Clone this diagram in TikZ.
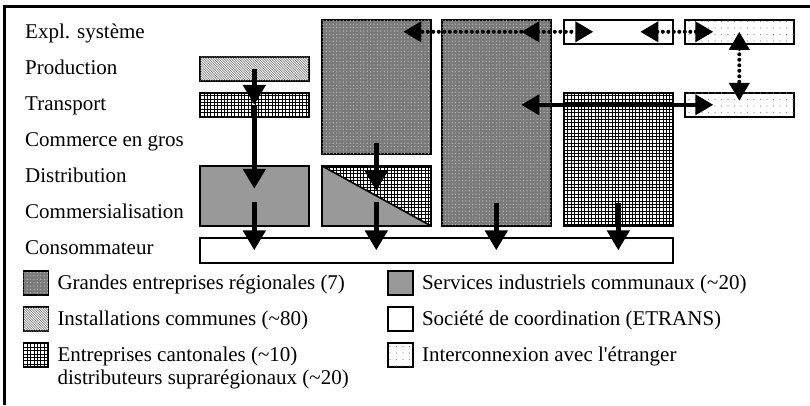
\documentclass[tikz,border=0pt]{standalone}
\usepackage{fontspec}
\setmainfont{Liberation Serif}
\usetikzlibrary{positioning}
\usetikzlibrary{arrows.meta,calc,patterns}

\pgfdeclarepatternformonly{finegrid}{\pgfqpoint{-1pt}{-1pt}}{\pgfqpoint{4.4pt}{4.4pt}}{\pgfqpoint{3.4pt}{3.4pt}}{%
  \pgfsetlinewidth{0.8pt}%
  \pgfpathmoveto{\pgfqpoint{0pt}{0pt}}\pgfpathlineto{\pgfqpoint{3.5pt}{0pt}}%
  \pgfpathmoveto{\pgfqpoint{0pt}{0pt}}\pgfpathlineto{\pgfqpoint{0pt}{3.5pt}}%
  \pgfusepath{stroke}}
\pgfdeclarepatternformonly{finehatch}{\pgfqpoint{-1pt}{-1pt}}{\pgfqpoint{3.5pt}{3.5pt}}{\pgfqpoint{2.5pt}{2.5pt}}{%
  \pgfsetlinewidth{0.6pt}%
  \pgfpathmoveto{\pgfqpoint{0pt}{2.5pt}}\pgfpathlineto{\pgfqpoint{2.6pt}{-0.1pt}}%
  \pgfusepath{stroke}}
\pgfdeclarepatternformonly{finedots}{\pgfqpoint{-1pt}{-1pt}}{\pgfqpoint{1pt}{1pt}}{\pgfqpoint{3.4pt}{3.4pt}}{%
  \pgfpathcircle{\pgfqpoint{0pt}{0pt}}{0.6pt}\pgfusepath{fill}}
\pgfdeclarepatternformonly{sparsedots}{\pgfqpoint{-1pt}{-1pt}}{\pgfqpoint{1pt}{1pt}}{\pgfqpoint{6.5pt}{6.5pt}}{%
  \pgfpathcircle{\pgfqpoint{0pt}{0pt}}{0.6pt}\pgfusepath{fill}}

\begin{document}
\begin{tikzpicture} [
       x=1pt, y=-1pt,
       font=\fontsize{21}{25}\selectfont,
       box/.style={draw, line width=1.6pt, inner sep=0pt, minimum width=109pt, anchor=north west},
       regional/.style={fill=black!52, postaction={pattern=finedots, pattern color=black!22}},
       communal/.style={fill=black!40},
       common/.style={fill=white, postaction={pattern=finehatch, pattern color=black!60}},
       cantonal/.style={fill=white, postaction={pattern=finegrid, pattern color=black}},
       coord/.style={fill=white},
       foreign/.style={fill=white, postaction={pattern=sparsedots, pattern color=black!45}},
       level/.style={anchor=base west, inner sep=0pt},
       swatch/.style={draw, line width=1.6pt, inner sep=0pt, minimum width=25pt, minimum height=24pt},
       legend/.style={inner sep=0pt, text height=15pt, text depth=2pt},
       flow/.style={draw, line width=5.5pt, -{Triangle[length=20pt 0 0,width=22pt 0 0]}},
       twoway/.style={{Triangle[length=18pt 0 0,width=20pt 0 0]}-{Triangle[length=18pt 0 0,width=20pt 0 0]}},
       dotflow/.style={draw, line width=4pt, line cap=round, dash pattern=on 0pt off 5.5pt,
               -{Triangle[length=18pt 0 0,width=20pt 0 0]}},
       node distance=8pt,
       ]
       \useasboundingbox (0,0) rectangle (810,405);
       % frame
       \draw[line width=3pt] (3,6.5) -- (810,6.5);
       \draw[line width=2.5pt] (4.5,5) -- (4.5,405);

       % levels
       \node[level] (explo) at (25,38) {Expl. système};
       \node[level] (prodlbl) at (25,74) {Production};
       \node[level] (translbl) at (25,110) {Transport};
       \node[level] (groslbl) at (25,146) {Commerce en gros};
       \node[level] (distlbl) at (25,182) {Distribution};
       \node[level] (commlbl) at (25,218) {Commersialisation};
       \node[level] (conslbl) at (25,254) {Consommateur};

       % boxes
       \node[box, common, minimum height=24pt] (prod) at (199,56) {};
       \node[box, cantonal, minimum height=24pt] (trans) at (199,92) {};
       \node[box, communal, minimum height=60pt] (svc) at (199,165) {};
       \node[box, regional, minimum height=134pt] (reg2) at (321,19) {};
       \node[box, minimum height=60pt, path picture={
           \fill[black!40] (path picture bounding box.north west) -- (path picture bounding box.south east)
               -- (path picture bounding box.south west) -- cycle;
           \fill[pattern=finegrid, pattern color=black] (path picture bounding box.north west)
               -- (path picture bounding box.north east) -- (path picture bounding box.south east) -- cycle;
           \draw[line width=1.6pt] (path picture bounding box.north west) -- (path picture bounding box.south east);
       }] (mix) at (321,165) {};
       \node[box, regional, minimum height=206pt] (reg3) at (441,19) {};
       \node[box, coord, minimum height=24pt] (etrans) at (563,19) {};
       \node[box, cantonal, minimum height=133pt] (cant) at (563,92) {};
       \node[box, foreign, minimum height=24pt] (abroad1) at (684,19) {};
       \node[box, foreign, minimum height=24pt] (abroad2) at (684,92) {};
       \node[box, coord, minimum width=473pt, minimum height=25pt] (cons) at (199,237) {};

       % legend
       \node[swatch, regional] (keyreg) at (36,283) {};
       \node[legend, right=of keyreg] (txtreg) {Grandes entreprises régionales (7)};
       \node[swatch, common] (keycom) at (36,319) {};
       \node[legend, right=of keycom] (txtcom) {Installations communes (\textasciitilde80)};
       \node[swatch, cantonal] (keycant) at (36,355) {};
       \node[legend, right=of keycant] (txtcant) {Entreprises cantonales (\textasciitilde10)};
       \node[legend, anchor=base west] (txtdist) at ([yshift=-23pt]txtcant.base west) {distributeurs suprarégionaux (\textasciitilde20)};
       \node[swatch, communal] (keysvc) at (400.5,283) {};
       \node[legend, right=of keysvc] (txtsvc) {Services industriels communaux (\textasciitilde20)};
       \node[swatch, coord] (keyetr) at (400.5,319) {};
       \node[legend, right=of keyetr] (txtetr) {Société de coordination (ETRANS)};
       \node[swatch, foreign] (keyfor) at (400.5,355) {};
       \node[legend, right=of keyfor] (txtfor) {Interconnexion avec l\textquotesingle étranger};

        \begin{scope}[every path/.style=flow]
        \path (prod.center) -- (trans.center);
        \path[shorten >=7pt] (trans.center) -- (svc.center);
        \path ([yshift=-6pt]svc.center) -- (svc.center |- cons.center);
        \path ([yshift=12pt]reg2.south) -- ([yshift=5pt]mix.center);
        \path ([yshift=-6pt]mix.center) -- (mix.center |- cons.center);
        \path ([yshift=24pt]reg3.south) -- (reg3.south |- cons.center);
        \path ([yshift=24pt]cant.south) -- (cant.south |- cons.center);
        \path[twoway, line width=4pt] ($(reg3.center |- abroad2.center)+(25,0)$) -- ($(abroad2.center)+(-26,0)$);
        \end{scope}
        \begin{scope}[every path/.style=dotflow]
        \path ($(reg3.center |- etrans.center)+(25,0)$) -- ($(reg2.center |- etrans.center)+(27,0)$);
        \path[twoway] ($(reg3.center |- etrans.center)+(25,0)$) -- ($(etrans.center)+(-25,0)$);
        \path[twoway] ($(etrans.center)+(22,0)$) -- ($(abroad1.center)+(-26,0)$);
        \path[twoway, shorten >=4pt] (abroad1.center) -- (abroad2.center);
        \end{scope}
\end{tikzpicture}
\end{document}
